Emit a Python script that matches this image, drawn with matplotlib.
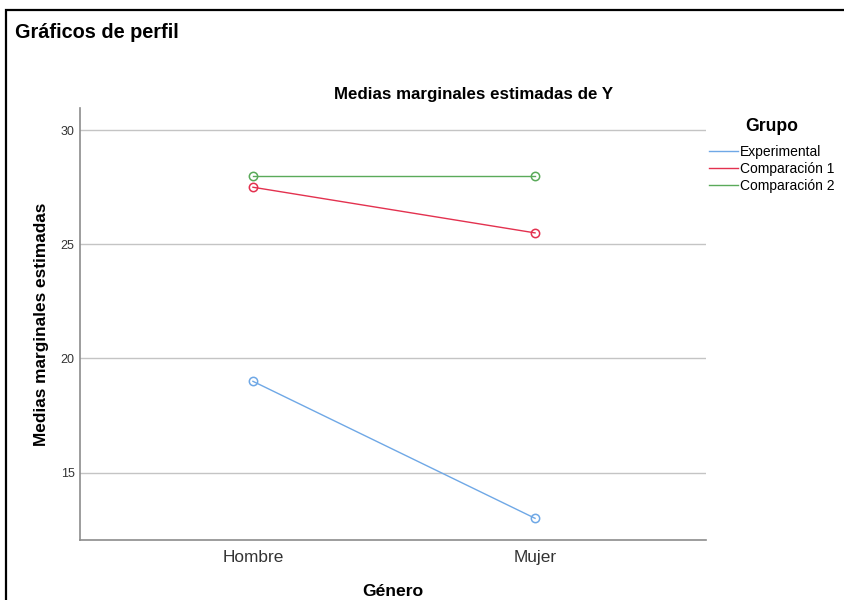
import matplotlib
matplotlib.use("Agg")
import matplotlib.pyplot as plt
from matplotlib.lines import Line2D
from matplotlib.patches import Rectangle

plt.rcParams["font.family"] = ["Liberation Sans", "DejaVu Sans"]

# data
generos = ["Hombre", "Mujer"]
grupos = ["Experimental", "Comparación 1", "Comparación 2"]
experimental = [19.0, 13.0]
comparacion1 = [27.5, 25.5]
comparacion2 = [28.0, 28.0]
y_ticks = [15, 20, 25, 30]

colores = ["#6fa8e6", "#e3314f", "#5aaa5a"]

fig = plt.figure(figsize=(8.45, 6.0), dpi=100)
ax = fig.add_axes([80 / 845, 1 - 540 / 600, (706 - 80) / 845, (540 - 108) / 600])

x = list(range(len(generos)))
for serie, color in zip([experimental, comparacion1, comparacion2], colores):
    ax.plot(x, serie, color=color, linewidth=1.0, marker="o", markersize=6,
            markerfacecolor="none", markeredgecolor=color, markeredgewidth=1.1, zorder=3)

ax.set_xlim(-0.613, 1.606)
ax.set_ylim(12.05, 30.97)
ax.set_yticks(y_ticks)
ax.set_xticks(x)
ax.set_xticklabels(generos, fontsize=12.4, color="#333333")
ax.tick_params(axis="y", length=0, labelsize=9, labelcolor="#333333", pad=4)
ax.tick_params(axis="x", length=0, pad=7)
ax.grid(axis="y", color="#c4c4c4", linewidth=1.0)
ax.set_axisbelow(True)
for side in ["top", "right"]:
    ax.spines[side].set_visible(False)
for side in ["left", "bottom"]:
    ax.spines[side].set_color("#8c8c8c")
    ax.spines[side].set_linewidth(1.2)

ax.set_ylabel("Medias marginales estimadas", fontsize=12.4, fontweight="bold", labelpad=8)
ax.set_xlabel("Género", fontsize=12.6, fontweight="bold", labelpad=14)

fig.text(474 / 845, 1 - 95 / 600, "Medias marginales estimadas de Y",
         fontsize=12.2, fontweight="bold", ha="center", va="center")
fig.text(15 / 845, 1 - 33 / 600, "Gráficos de perfil",
         fontsize=14.3, fontweight="bold", ha="left", va="center")

handles = [Line2D([0], [0], color=c, linewidth=1.0) for c in colores]
leg = fig.legend(handles, grupos, loc="upper left", bbox_to_anchor=(709 / 845, 1 - 118 / 600),
                 frameon=False, fontsize=10, title="Grupo", handlelength=2.1,
                 handletextpad=0.15, labelspacing=0.22, borderaxespad=0, borderpad=0)
leg.get_title().set_fontweight("bold")
leg.get_title().set_fontsize(12.7)
leg._legend_box.sep = 7

fig.patches.append(Rectangle((6 / 845, -0.1), 1.2, 1 - 10 / 600 + 0.1,
                             transform=fig.transFigure, fill=False,
                             edgecolor="black", linewidth=1.6))

fig.savefig("out.png", dpi=100)
